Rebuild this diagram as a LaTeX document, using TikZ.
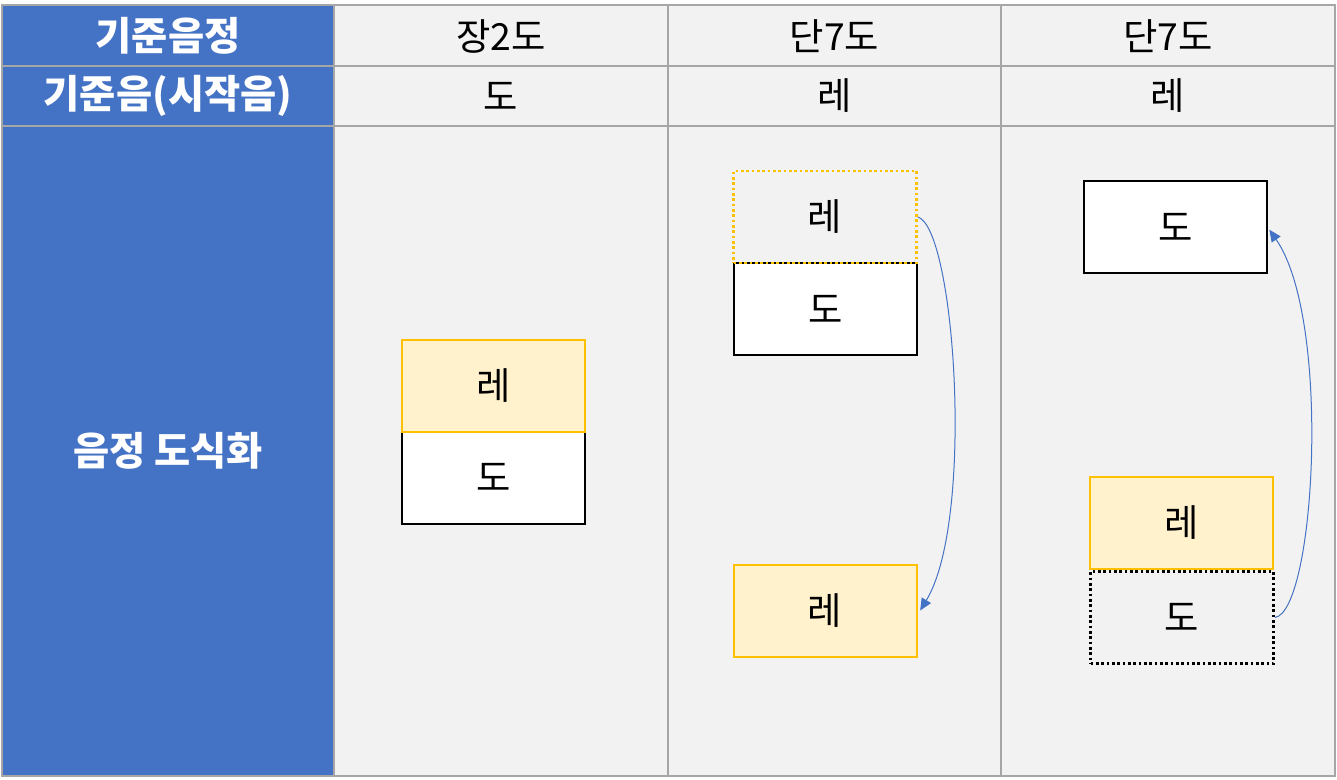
\documentclass[tikz,border=0pt]{standalone}
\usepackage{fontspec}
\setmainfont{Noto Sans CJK KR}
\usetikzlibrary{arrows.meta}
\definecolor{hblue}{HTML}{4472C4}
\definecolor{cellgray}{HTML}{F2F2F2}
\definecolor{gridgray}{HTML}{A6A6A6}
\definecolor{gold}{HTML}{FFC000}
\definecolor{lightgold}{HTML}{FFF2CC}
\begin{document}
\begin{tikzpicture}[x=0.75pt,y=-0.75pt,
  hdr/.style={text=white,font=\fontsize{29.5}{32}\selectfont\bfseries},
  cell/.style={text=black,font=\fontsize{28}{32}\selectfont},
  note/.style={minimum width=137.25pt,minimum height=69pt,inner sep=0pt,
    font=\fontsize{28}{32}\selectfont},
  notewhite/.style={note,draw=black,fill=white,line width=1.5pt},
  noteyellow/.style={note,draw=gold,fill=lightgold,line width=1.5pt},
  notedotgold/.style={note,draw=gold,line width=2pt,dash pattern=on 2pt off 2pt},
  notedotblack/.style={note,draw=black,line width=2pt,dash pattern=on 2pt off 2pt},
  link/.style={draw=hblue,line width=0.75pt,-{Triangle[length=9pt,width=8pt]}}
]
\useasboundingbox (0,0) rectangle (1337,779);
\fill[white] (0,0) rectangle (1337,779);
% cells
\fill[cellgray] (2,5) rectangle (1335,776);
\fill[hblue] (2,5) rectangle (334,776);
% grid
\draw[gridgray,line width=1.5pt] (2,5) rectangle (1335,776);
\draw[gridgray,line width=1.5pt] (2,66) -- (1335,66);
\draw[gridgray,line width=1.5pt] (2,126) -- (1335,126);
\foreach \xx in {334,668,1001} \draw[gridgray,line width=1.5pt] (\xx,5) -- (\xx,776);
% header texts
\node[hdr] (h1) at (168,36) {기준음정};
\node[hdr] (h2) at (168,96) {기준음(시작음)};
\node[hdr] (h3) at (168,451) {음정 도식화};
\node[cell] (c11) at (501,36) {장2도};
\node[cell] (c12) at (834.5,36) {단7도};
\node[cell] (c13) at (1168,36) {단7도};
\node[cell] (c21) at (501,96) {도};
\node[cell] (c22) at (834.5,96) {레};
\node[cell] (c23) at (1168,96) {레};
% column 1
\node[notewhite] (a2) at (493.5,477.5) {도};
\node[noteyellow] (a1) at (493.5,385.5) {레};
% column 2
\node[notewhite] (b2) at (825.5,309) {도};
\node[notedotgold] (b1) at (825,217) {레};
\node[noteyellow] (b3) at (825,610.5) {레};
% column 3
\node[notewhite] (d1) at (1175.5,227) {도};
\node[noteyellow] (d2) at (1181.5,522.5) {레};
\node[notedotblack] (d3) at (1182,617.5) {도};
% arrows
\draw[link] (b1.east) .. controls (955,228) and (975,520) .. ([xshift=2pt]b3.east);
\draw[link] (d3.east) .. controls (1315,612) and (1332,320) .. ([xshift=1pt,yshift=-2pt]d1.east);
\end{tikzpicture}
\end{document}
